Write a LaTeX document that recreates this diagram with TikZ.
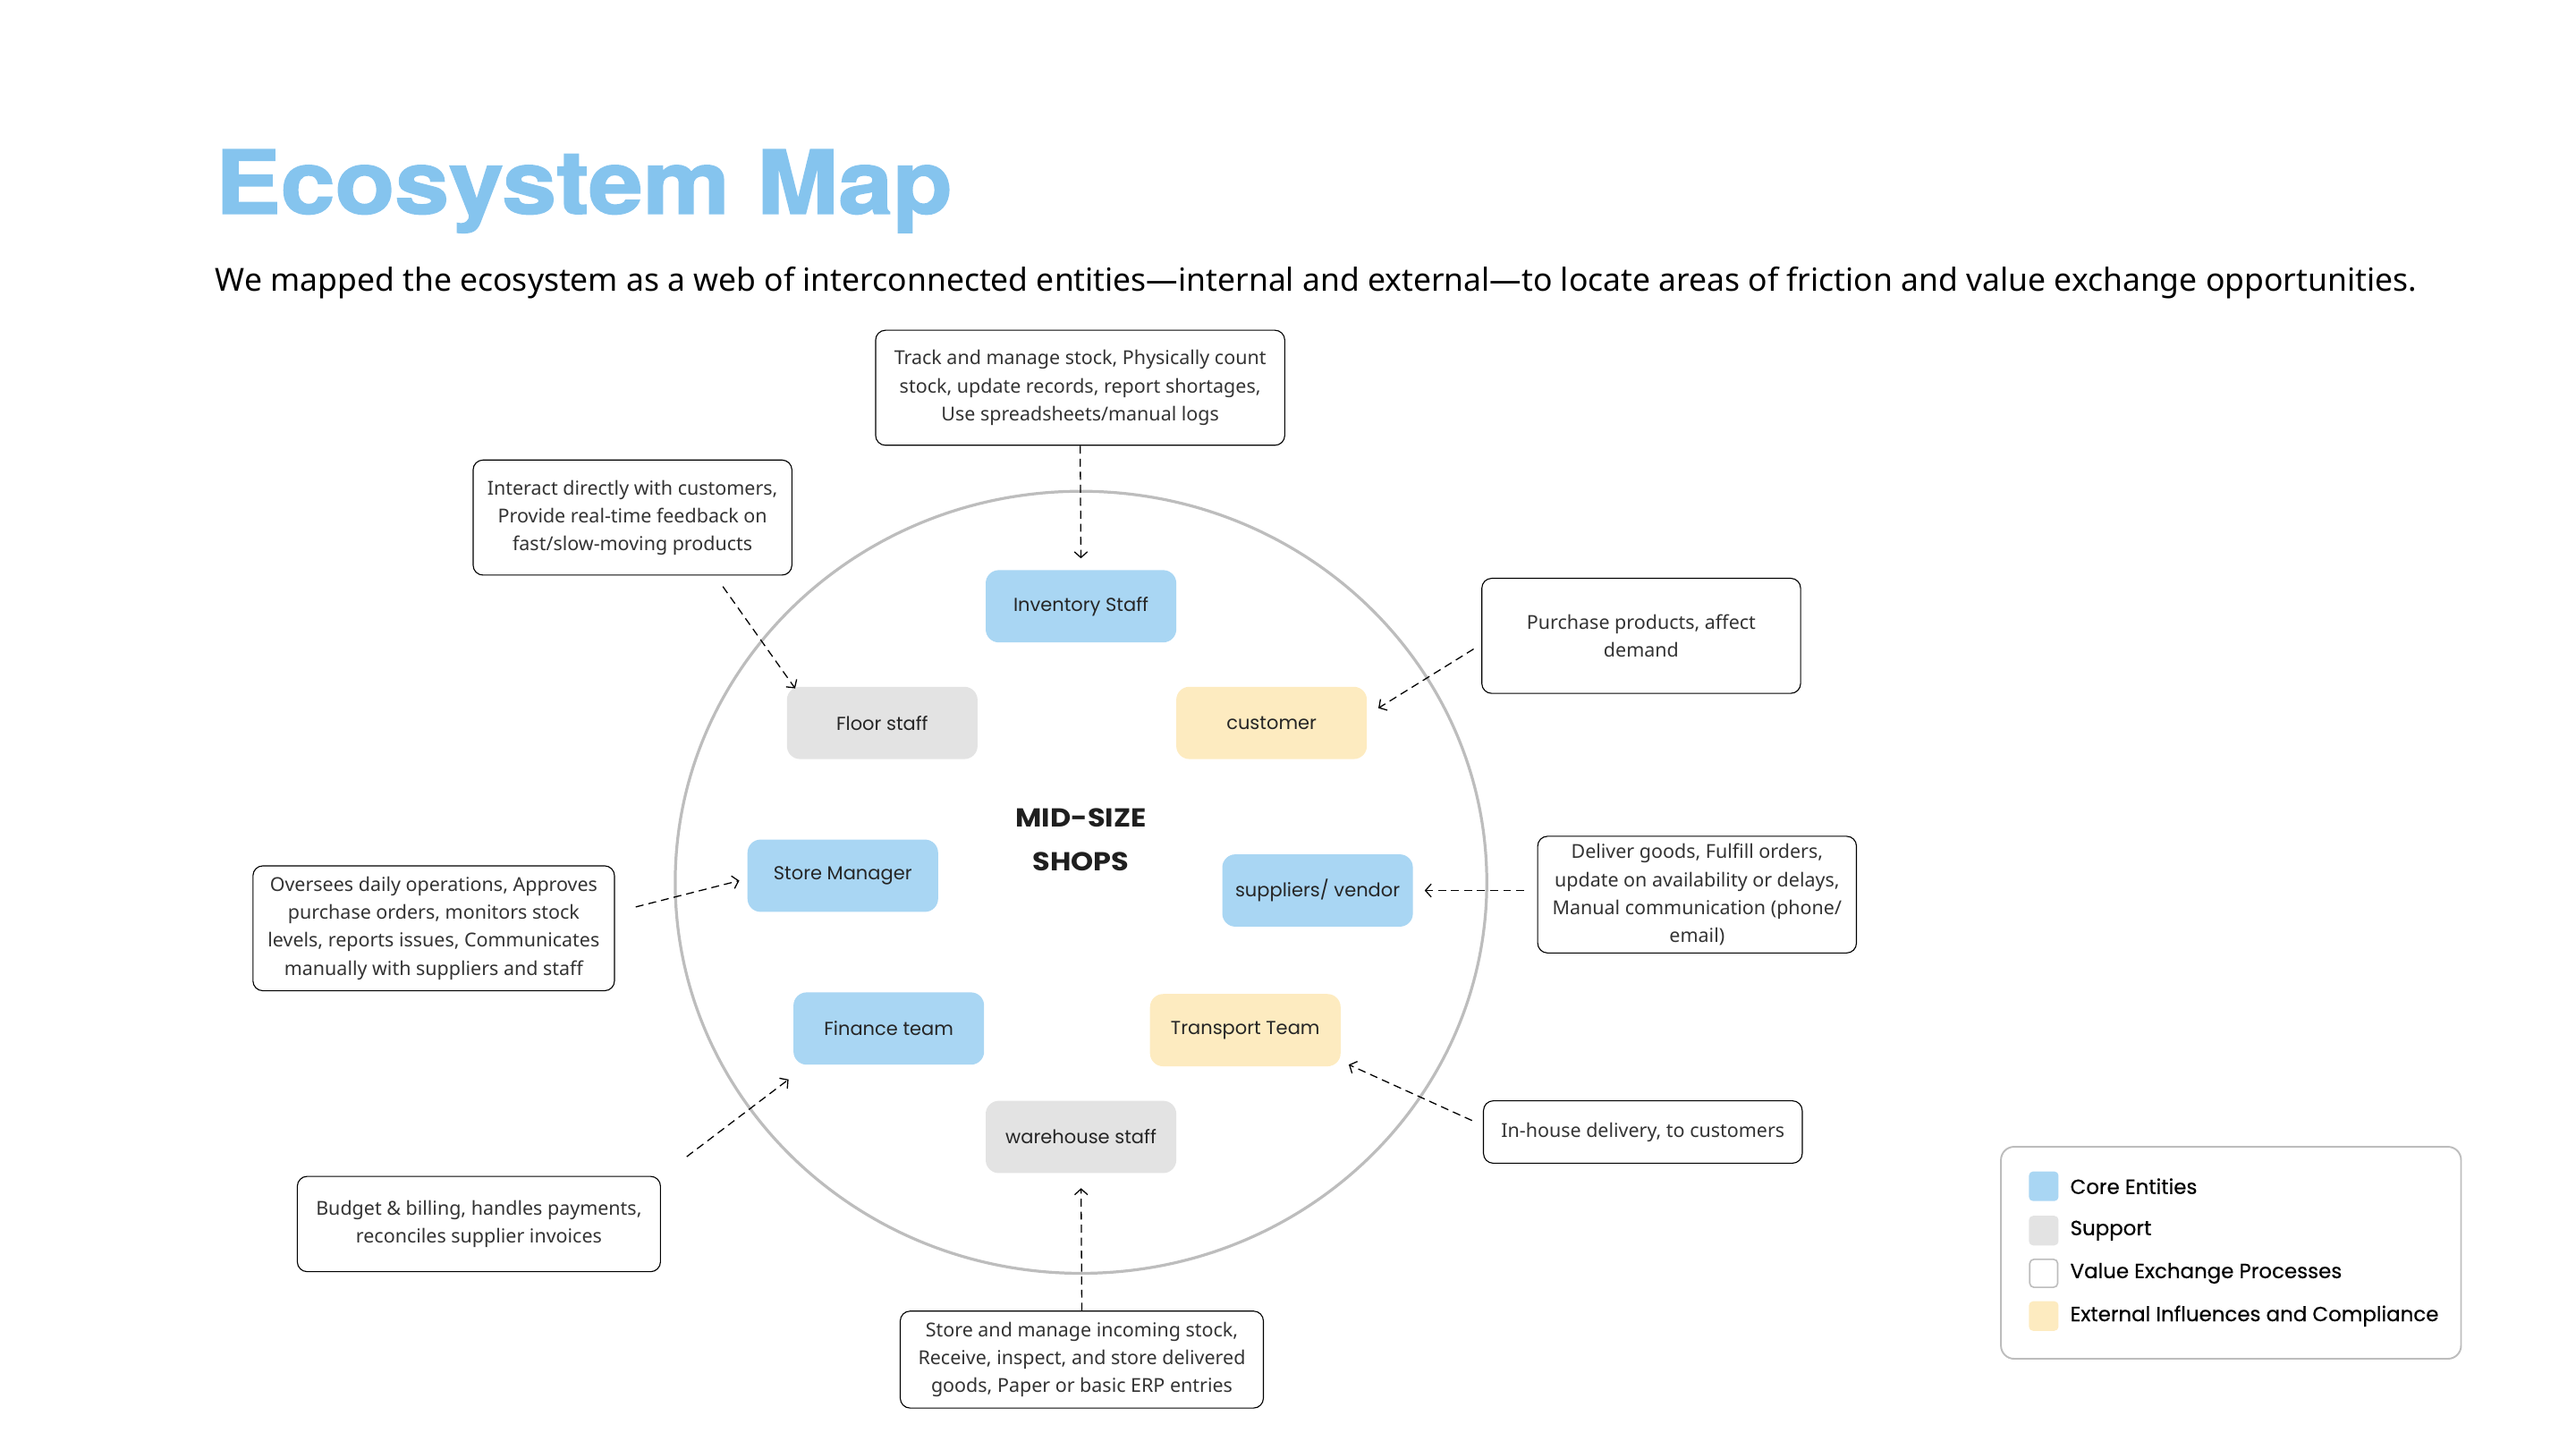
\documentclass[tikz,border=0pt]{standalone}
\usepackage{fontspec}
\setmainfont{Noto Sans}
\newfontfamily\popfont{Poppins}
\newfontfamily\popmedium[FakeBold=0.4]{Poppins}
\newfontfamily\headfont[BoldFeatures={FakeBold=1.5}]{TeX Gyre Heros}
\usetikzlibrary{positioning,arrows.meta}
\definecolor{coreblue}{HTML}{A9D6F3}
\definecolor{supgray}{HTML}{E3E3E3}
\definecolor{extyellow}{HTML}{FDEBC0}
\definecolor{titleblue}{HTML}{85C4EE}
\definecolor{ringgray}{HTML}{BDBDBD}
\definecolor{inktext}{HTML}{333333}

\begin{document}
\begin{tikzpicture}[x=0.04cm, y=-0.04cm,
    entity/.style={rounded corners=0.32cm, minimum width=4.64cm, minimum height=1.76cm,
      inner sep=0pt, text=black!85, font=\popfont\fontsize{13}{15}\selectfont},
    desc/.style={draw=black, line width=0.7pt, rounded corners=0.24cm, align=center,
      inner sep=0pt, text=inktext, font=\fontsize{13.3}{19.3}\selectfont},
    link/.style={densely dashed, dash pattern=on 5.5pt off 3.5pt, line width=0.8pt,
      -{Straight Barb[length=4pt, width=9pt]}},
    swatch/.style={rounded corners=0.1cm, minimum size=0.72cm, inner sep=0pt},
    legtext/.style={anchor=west, inner sep=0pt, font=\popmedium\fontsize{14.2}{16}\selectfont}]
  \useasboundingbox (0,0) rectangle (1568,882);

  % heading
  \node[anchor=base west, inner sep=0pt, text=titleblue] (title) at (131,130)
    {\scalebox{1.11}[1]{\headfont\bfseries\fontsize{61}{61}\selectfont Ecosystem Map}};
  \node[anchor=base west, inner sep=0pt, font=\fontsize{22}{26}\selectfont] (subtitle) at (131,177)
    {We mapped the ecosystem as a web of interconnected entities---internal and external---to locate areas of friction and value exchange opportunities.};

  % the shop ring
  \draw[ringgray, line width=2pt] (658,537) ellipse [x radius=247, y radius=238];
  \node[align=center, font=\popfont\bfseries\fontsize{18}{30.6}\selectfont, text=black!88] (shop) at (658,511)
    {\scalebox{1.1}[1]{MID-SIZE}\\\scalebox{1.1}[1]{SHOPS}};

  % entities
  \node[entity, fill=coreblue]  (inv)   at (658,369) {Inventory Staff};
  \node[entity, fill=supgray]   (floor) at (537,440) {Floor staff};
  \node[entity, fill=extyellow] (cust)  at (774,440) {customer};
  \node[entity, fill=coreblue]  (mgr)   at (513,533) {Store Manager};
  \node[entity, fill=coreblue]  (sup)   at (802,542) {suppliers/ vendor};
  \node[entity, fill=coreblue]  (fin)   at (541,626) {Finance team};
  \node[entity, fill=extyellow] (trans) at (758,627) {Transport Team};
  \node[entity, fill=supgray]   (ware)  at (658,692) {warehouse staff};

  % what each one does
  \node[desc, minimum width=9.96cm, minimum height=2.8cm] (invdesc) at (657.5,236)
    {Track and manage stock, Physically count\\stock, update records, report shortages,\\Use spreadsheets/manual logs};
  \node[desc, minimum width=7.76cm, minimum height=2.8cm] (floordesc) at (385,315)
    {Interact directly with customers,\\Provide real-time feedback on\\fast/slow-moving products};
  \node[desc, minimum width=7.76cm, minimum height=2.8cm] (custdesc) at (999,387)
    {Purchase products, affect\\demand};
  \node[desc, minimum width=8.8cm, minimum height=3.04cm] (mgrdesc) at (264,565)
    {Oversees daily operations, Approves\\purchase orders, monitors stock\\levels, reports issues, Communicates\\manually with suppliers and staff};
  \node[desc, minimum width=7.76cm, minimum height=2.84cm] (supdesc) at (1033,544.5)
    {Deliver goods, Fulfill orders,\\update on availability or delays,\\Manual communication (phone/\\email)};
  \node[desc, minimum width=7.76cm, minimum height=1.52cm] (transdesc) at (1000,689)
    {In-house delivery, to customers};
  \node[desc, minimum width=8.84cm, minimum height=2.32cm] (findesc) at (291.5,745)
    {Budget \& billing, handles payments,\\reconciles supplier invoices};
  \node[desc, minimum width=8.84cm, minimum height=2.36cm] (waredesc) at (658.5,827.5)
    {Store and manage incoming stock,\\Receive, inspect, and store delivered\\goods, Paper or basic ERP entries};

  % free ends of the slanted links
  \coordinate (floorfrom) at (440,357);
  \coordinate (floorto)   at (484,419);
  \coordinate (custfrom)  at (897,395);
  \coordinate (custto)    at (839,431);
  \coordinate (mgrfrom)   at (387,552);
  \coordinate (mgrto)     at (450,536);
  \coordinate (transfrom) at (896,682);
  \coordinate (transto)   at (821,648);
  \coordinate (finfrom)   at (418,704);
  \coordinate (finto)     at (480,657);

  \draw[link, shorten >=0.28cm] (invdesc.south) -- (inv.north);
  \draw[link, shorten >=0.36cm] (waredesc.north) -- (ware.south);
  \draw[link, shorten <=0.32cm, shorten >=0.28cm] (supdesc.west |- sup) -- (sup.east);
  \draw[link] (floorfrom) -- (floorto);
  \draw[link] (custfrom) -- (custto);
  \draw[link] (mgrfrom) -- (mgrto);
  \draw[link] (transfrom) -- (transto);
  \draw[link] (finfrom) -- (finto);

  % legend
  \node[draw=ringgray, line width=1.2pt, rounded corners=0.32cm,
    minimum width=11.2cm, minimum height=5.16cm] (legend) at (1358,762.5) {};
  \node[swatch, fill=coreblue]  (keycore) at (1244,722) {};
  \node[swatch, fill=supgray]   (keysup)  at (1244,749) {};
  \node[swatch, draw=ringgray, line width=1pt, minimum size=0.68cm] (keyval) at (1244,775) {};
  \node[swatch, fill=extyellow] (keyext)  at (1244,801) {};
  \node[legtext] at (1260,722) {Core Entities};
  \node[legtext] at (1260,749) {Support};
  \node[legtext] at (1260,775) {Value Exchange Processes};
  \node[legtext] at (1260,801) {External Influences and Compliance};
\end{tikzpicture}
\end{document}
